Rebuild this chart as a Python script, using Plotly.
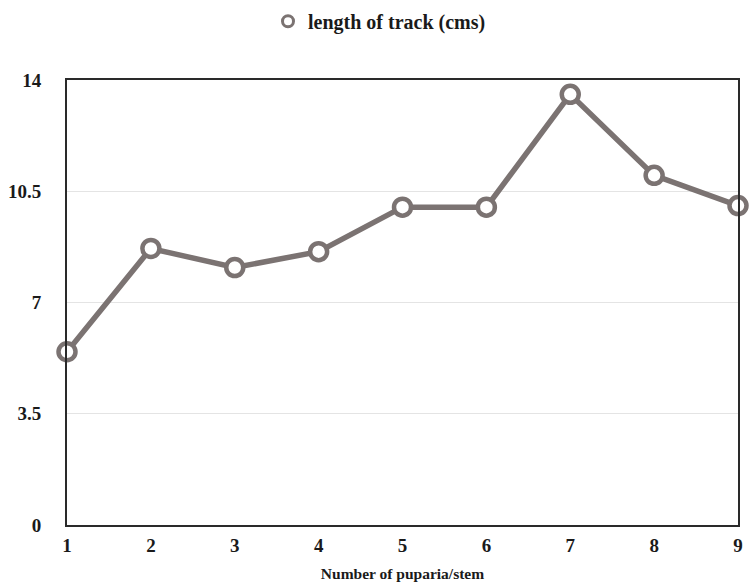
import plotly.graph_objects as go

puparia = [1, 2, 3, 4, 5, 6, 7, 8, 9]
track_length = [5.45, 8.7, 8.1, 8.6, 10.0, 10.0, 13.55, 11.0, 10.05]
series_name = "length of track (cms)"
y_ticks = [0, 3.5, 7, 10.5, 14]
y_tick_labels = ["0", "3.5", "7", "10.5", "14"]

col = "#7b7372"
font = "Liberation Serif"

fig = go.Figure()
fig.add_trace(go.Scatter(
    x=puparia, y=track_length, mode="lines+markers", showlegend=False,
    line=dict(color=col, width=5.5),
    marker=dict(symbol="circle", size=17, color="white", line=dict(color=col, width=4.5)),
    cliponaxis=False,
))
fig.add_trace(go.Scatter(
    x=[None], y=[None], mode="markers", name=series_name,
    marker=dict(symbol="circle", size=11, color="white", line=dict(color=col, width=3)),
))

fig.update_layout(
    width=750, height=585,
    margin=dict(l=67, r=12, t=80, b=60),
    paper_bgcolor="white", plot_bgcolor="white",
    font=dict(family=font, size=15, color="#1a1a1a"),
    showlegend=True,
    legend=dict(orientation="h", x=0.506, xanchor="center", xref="container",
                y=0.997, yanchor="top", yref="container",
                font=dict(family=font, size=20, weight="bold")),
    xaxis=dict(range=[1, 9], tickvals=puparia, ticktext=[f"<b>{v}</b>" for v in puparia],
               automargin=False, tickfont=dict(size=19),
               showgrid=False, zeroline=False, showline=True, linecolor="#2a2a2a", linewidth=2,
               mirror=True, ticks="", ticklabelstandoff=2,
               title=dict(text="<b>Number of puparia/stem</b>", standoff=13, font=dict(size=15.5))),
    yaxis=dict(range=[0, 14], tickvals=y_ticks, ticktext=[f"<b>{t}</b>" for t in y_tick_labels],
               automargin=False, tickfont=dict(size=19),
               showgrid=True, gridcolor="#e4e4e4", gridwidth=1, zeroline=False,
               showline=True, linecolor="#2a2a2a", linewidth=2, mirror=True, ticks="",
               ticklabelstandoff=20),
)

fig.write_html("out.html", config={"displayModeBar": False},
               post_script="document.body.style.margin='0';")
